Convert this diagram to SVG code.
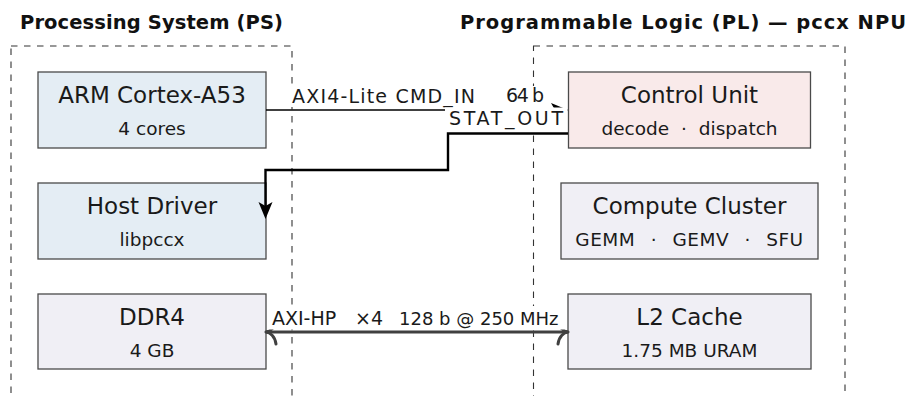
<svg xmlns="http://www.w3.org/2000/svg" width="909" height="396" viewBox="0 0 909 396">
<defs>
<style>
.region{fill:none;stroke:#333;stroke-width:1.1;stroke-dasharray:6.5 6.5}
.title{font-family:"DejaVu Sans",sans-serif;font-weight:bold;font-size:19.5px;fill:#111}
.box{stroke:#4a4a4a;stroke-width:1.3}
.ps{fill:#e4edf4}
.gen{fill:#f0eff5}
.ctl{fill:#f9eaea}
.main{font-family:"DejaVu Sans",sans-serif;font-size:23px;text-anchor:middle;fill:#1a1a1a}
.sub{font-family:"DejaVu Sans",sans-serif;font-size:18.5px;text-anchor:middle;fill:#1a1a1a}
.lbl{font-family:"DejaVu Sans",sans-serif;font-size:19px;fill:#1a1a1a}
.wire{fill:none;stroke:#000}
.bus{fill:none;stroke:#404040;stroke-width:3}
.bg{fill:#fff}
</style>
<marker id="head" markerUnits="userSpaceOnUse" viewBox="0 0 30 30" markerWidth="30" markerHeight="30" refX="10" refY="15" orient="auto"><path d="M18,15 L1,8 L5,15 L1,22 Z" fill="#000"/></marker>
<marker id="hook" markerUnits="userSpaceOnUse" viewBox="0 0 40 40" markerWidth="40" markerHeight="40" refX="20" refY="20" orient="auto-start-reverse"><path d="M20,20 C16,20.5 11,24 10,32 M20,20 C16,19.5 11,16 10,8" fill="none" stroke="#404040" stroke-width="3" stroke-linecap="round"/></marker>
</defs>
<g id="regions">
<rect class="region" x="11" y="46" width="281" height="380"/>
<rect class="region" x="533.5" y="46" width="311.5" height="380"/>
<text class="title" x="20" y="29" textLength="263">Processing System (PS)</text>
<text class="title" x="460" y="29" textLength="446">Programmable Logic (PL) — pccx NPU</text>
</g>
<g id="arm">
<rect class="box ps" x="38" y="72" width="228" height="76"/>
<text class="main" x="152" y="102.5">ARM Cortex-A53</text>
<text class="sub" x="152" y="134.5">4 cores</text>
</g>
<g id="host">
<rect class="box ps" x="38" y="183" width="228" height="76"/>
<text class="main" x="152" y="213.5">Host Driver</text>
<text class="sub" x="152" y="245.5">libpccx</text>
</g>
<g id="ddr4">
<rect class="box gen" x="38" y="294" width="228" height="75"/>
<text class="main" x="152" y="324.5">DDR4</text>
<text class="sub" x="152" y="356.5">4 GB</text>
</g>
<g id="control">
<rect class="box ctl" x="568.5" y="72" width="242" height="76"/>
<text class="main" x="689.5" y="102.5">Control Unit</text>
<text class="sub" x="689.5" y="134.5">decode <tspan dx="6">·</tspan><tspan dx="6"> dispatch</tspan></text>
</g>
<g id="compute">
<rect class="box gen" x="561" y="183" width="257" height="76"/>
<text class="main" x="689.5" y="213.5">Compute Cluster</text>
<text class="sub" x="689.5" y="245.5" letter-spacing="0.5">GEMM <tspan dx="9">·</tspan><tspan dx="9"> GEMV </tspan><tspan dx="9">·</tspan><tspan dx="9"> SFU</tspan></text>
</g>
<g id="l2">
<rect class="box gen" x="568" y="294" width="243" height="75"/>
<text class="main" x="689.5" y="324.5">L2 Cache</text>
<text class="sub" x="689.5" y="356.5">1.75 MB URAM</text>
</g>
<g id="connectors">
<path class="wire" stroke-width="1.6" d="M266,110 H560" marker-end="url(#head)"/>
<path class="wire" stroke-width="2.4" d="M568,133.5 H448 V170 H265.5 V211" marker-end="url(#head)"/>
<path class="bus" d="M266,332 H568" marker-start="url(#hook)" marker-end="url(#hook)"/>
<rect class="bg" x="288" y="86" width="192" height="21"/>
<text class="lbl" x="292" y="103" textLength="183">AXI4-Lite CMD_IN</text>
<rect class="bg" x="502" y="86" width="44" height="18"/>
<text class="lbl" x="506" y="102" textLength="38">64 b</text>
<rect class="bg" x="445" y="107.5" width="122" height="23.5"/>
<text class="lbl" x="449" y="125" textLength="114">STAT_OUT</text>
<rect class="bg" x="267" y="306" width="300" height="23.5"/>
<text class="lbl" y="325" font-size="18.5"><tspan x="272">AXI-HP </tspan><tspan x="355">×4 </tspan><tspan x="399" font-size="18">128 b @ 250 MHz</tspan></text>
</g>
</svg>
